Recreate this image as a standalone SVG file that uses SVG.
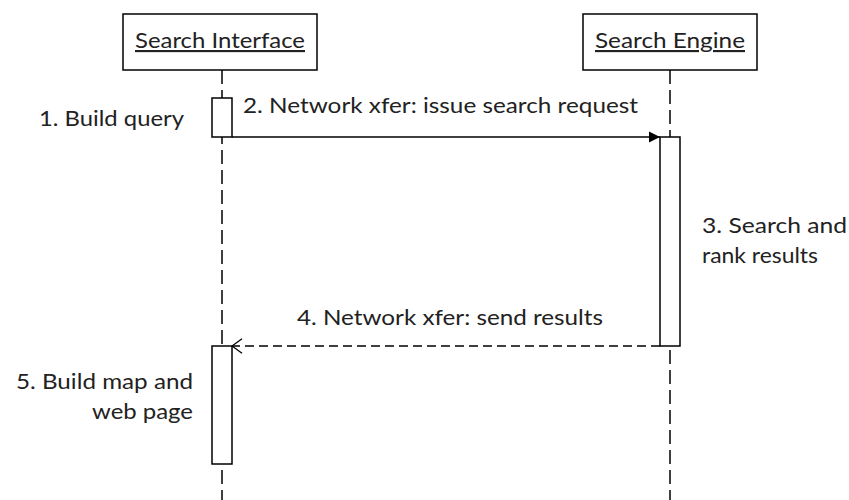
<svg xmlns="http://www.w3.org/2000/svg" width="849" height="500" viewBox="0 0 849 500">
<style>
.box{fill:#fff;stroke:#000;stroke-width:1.5}
.life{stroke:#000;stroke-width:1.5;stroke-dasharray:14 6;fill:none}
.t{font-family:Lato,"Open Sans","Liberation Sans",sans-serif;font-size:21.5px;fill:#222}
.msg{stroke:#000;stroke-width:1.5;fill:none}
</style>
<defs>
<marker id="filled" viewBox="0 0 11 12" refX="11" refY="6" markerWidth="11" markerHeight="12" markerUnits="userSpaceOnUse" orient="auto">
<path d="M0,0.5 L11,6 L0,11.5 Z" fill="#000"/>
</marker>
<marker id="open" viewBox="0 0 12 16" refX="11" refY="8" markerWidth="12" markerHeight="16" markerUnits="userSpaceOnUse" orient="auto">
<path d="M1,0.8 L11,8 L1,15.2" fill="none" stroke="#000" stroke-width="1.3"/>
</marker>
</defs>
<g id="lifelines">
<line class="life" x1="222" y1="70" x2="222" y2="500"/>
<line class="life" x1="670" y1="70" x2="670" y2="500"/>
</g>
<g id="search-interface">
<rect class="box" x="123" y="14" width="194" height="56"/>
<text class="t" x="220" y="48" text-anchor="middle" text-decoration="underline" textLength="170" lengthAdjust="spacingAndGlyphs">Search Interface</text>
</g>
<g id="search-engine">
<rect class="box" x="583" y="14" width="174" height="56"/>
<text class="t" x="670" y="48" text-anchor="middle" text-decoration="underline" textLength="150" lengthAdjust="spacingAndGlyphs">Search Engine</text>
</g>
<g id="activation-build-query">
<rect class="box" x="212" y="98" width="20" height="39"/>
<text class="t" x="39" y="126" textLength="145" lengthAdjust="spacingAndGlyphs">1. Build query</text>
</g>
<g id="activation-search">
<rect class="box" x="660" y="137" width="20" height="209"/>
<text class="t" x="702" y="233" textLength="145" lengthAdjust="spacingAndGlyphs">3. Search and</text>
<text class="t" x="702" y="263" textLength="116" lengthAdjust="spacingAndGlyphs">rank results</text>
</g>
<g id="activation-build-map">
<rect class="box" x="212" y="346" width="20" height="118"/>
<text class="t" x="193" y="389" text-anchor="end" textLength="177" lengthAdjust="spacingAndGlyphs">5. Build map and</text>
<text class="t" x="193" y="419" text-anchor="end" textLength="101" lengthAdjust="spacingAndGlyphs">web page</text>
</g>
<g id="connectors">
<line class="msg" x1="232" y1="137" x2="660" y2="137" marker-end="url(#filled)"/>
<text class="t" x="243" y="113" textLength="395" lengthAdjust="spacingAndGlyphs">2. Network xfer: issue search request</text>
<line class="msg" x1="660" y1="346" x2="232" y2="346" stroke-dasharray="9 5" marker-end="url(#open)"/>
<text class="t" x="297" y="325" textLength="306" lengthAdjust="spacingAndGlyphs">4. Network xfer: send results</text>
</g>
</svg>
